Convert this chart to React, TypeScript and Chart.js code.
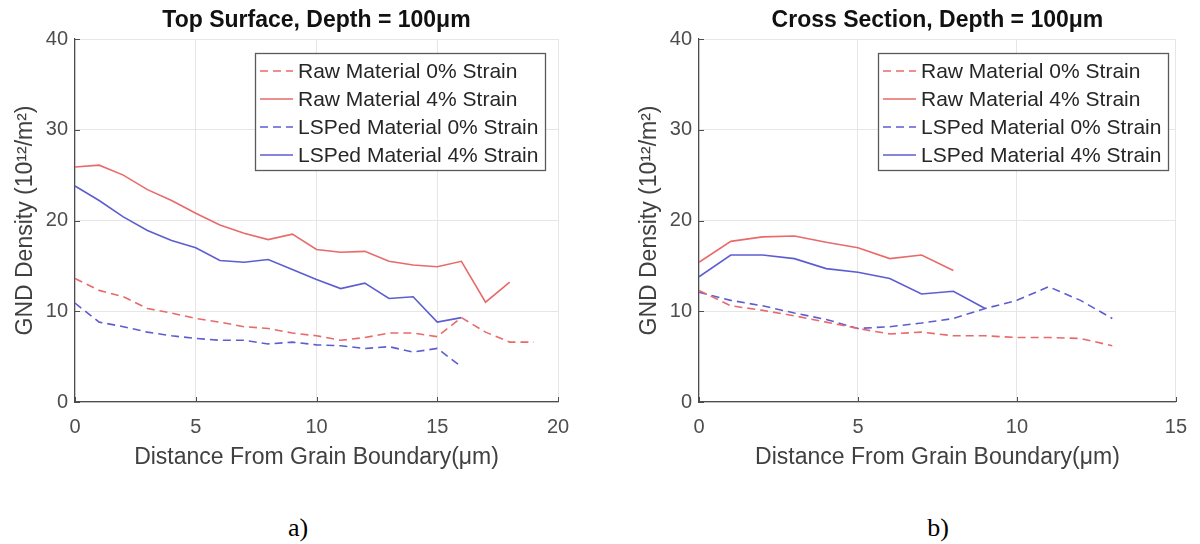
import React, { useEffect, useRef } from "react";
import { Chart, registerables } from "chart.js";

Chart.register(...registerables);

// ---------- Data ----------
const topX = [0, 1, 2, 3, 4, 5, 6, 7, 8, 9, 10, 11, 12, 13, 14, 15, 16, 17, 18, 19];
const topRaw0 = [13.6, 12.3, 11.6, 10.3, 9.8, 9.2, 8.8, 8.3, 8.1, 7.6, 7.3, 6.8, 7.1, 7.6, 7.6, 7.2, 9.3, 7.7, 6.6, 6.6];
const topRaw4 = [25.9, 26.1, 25.0, 23.4, 22.2, 20.8, 19.5, 18.6, 17.9, 18.5, 16.8, 16.5, 16.6, 15.5, 15.1, 14.9, 15.5, 11.0, 13.2];
const topLsp0 = [10.9, 8.8, 8.3, 7.7, 7.3, 7.0, 6.8, 6.8, 6.4, 6.6, 6.3, 6.2, 5.9, 6.1, 5.5, 5.9, 3.9];
const topLsp4 = [23.8, 22.2, 20.4, 18.9, 17.8, 17.0, 15.6, 15.4, 15.7, 14.6, 13.5, 12.5, 13.1, 11.4, 11.6, 8.8, 9.3];

const crossX = [0, 1, 2, 3, 4, 5, 6, 7, 8, 9, 10, 11, 12, 13];
const crossRaw0 = [12.3, 10.6, 10.1, 9.5, 8.8, 8.1, 7.5, 7.7, 7.3, 7.3, 7.1, 7.1, 7.0, 6.2];
const crossRaw4 = [15.4, 17.7, 18.2, 18.3, 17.6, 17.0, 15.8, 16.2, 14.5];
const crossLsp0 = [12.1, 11.2, 10.6, 9.8, 9.1, 8.1, 8.3, 8.7, 9.2, 10.3, 11.2, 12.7, 11.2, 9.2];
const crossLsp4 = [13.8, 16.2, 16.2, 15.8, 14.7, 14.3, 13.6, 11.9, 12.2, 10.3];

const seriesLabels = [
  "Raw Material 0% Strain",
  "Raw Material 4% Strain",
  "LSPed Material 0% Strain",
  "LSPed Material 4% Strain",
];

const topXTicks = [0, 5, 10, 15, 20];
const crossXTicks = [0, 5, 10, 15];
const yTicks = [0, 10, 20, 30, 40];

const titles = ["Top Surface, Depth = 100\u03bcm", "Cross Section, Depth = 100\u03bcm"];
const xTitle = "Distance From Grain Boundary(\u03bcm)";
const yTitle = "GND Density (10\u00b9\u00b2/m\u00b2)";

// ---------- Styles ----------
const FONT = "'Liberation Sans', Arial, sans-serif";
const RED = "#e96a6a";
const BLUE = "#5d5dd2";
const DASH = [8, 5];

const toPts = (xs: number[], ys: number[]) => ys.map((y, i) => ({ x: xs[i], y }));

type PanelCfg = {
  left: number;
  width: number;
  height: number;
  yWidth: number;
  padRight: number;
  yTitlePad: number;
  xMax: number;
  xTicks: number[];
  title: string;
  legendLeft: number;
  series: { x: number[]; y: number[] }[];
};

const decorPlugin = (title: string, legendLeft: number) => ({
  id: "decor",
  afterDraw(chart: any) {
    const { ctx, chartArea: ca, scales } = chart;
    ctx.save();
    // inward tick marks
    ctx.strokeStyle = "#4d4d4d";
    ctx.lineWidth = 1;
    ctx.setLineDash([]);
    scales.x.ticks.forEach((t: any) => {
      const px = Math.round(scales.x.getPixelForValue(t.value)) + 0.5;
      ctx.beginPath();
      ctx.moveTo(px, ca.bottom);
      ctx.lineTo(px, ca.bottom - 5);
      ctx.stroke();
    });
    scales.y.ticks.forEach((t: any) => {
      const py = Math.round(scales.y.getPixelForValue(t.value)) + 0.5;
      ctx.beginPath();
      ctx.moveTo(ca.left, py);
      ctx.lineTo(ca.left + 5, py);
      ctx.stroke();
    });
    // title
    ctx.fillStyle = "#111";
    ctx.font = `bold 23px ${FONT}`;
    ctx.textAlign = "center";
    ctx.textBaseline = "middle";
    ctx.fillText(title, (ca.left + ca.right) / 2, 21);
    // legend
    const bx = legendLeft, by = 53, bw = 290, bh = 117;
    ctx.fillStyle = "#fff";
    ctx.fillRect(bx, by, bw, bh);
    ctx.strokeStyle = "#5a5a5a";
    ctx.lineWidth = 1.3;
    ctx.strokeRect(bx + 0.5, by + 0.5, bw, bh);
    ctx.font = `21px ${FONT}`;
    ctx.textAlign = "left";
    chart.data.datasets.forEach((ds: any, i: number) => {
      const ry = 71 + i * 28;
      ctx.strokeStyle = ds.borderColor;
      ctx.lineWidth = 1.6;
      ctx.setLineDash(ds.borderDash || []);
      ctx.beginPath();
      ctx.moveTo(bx + 5, ry);
      ctx.lineTo(bx + 38, ry);
      ctx.stroke();
      ctx.setLineDash([]);
      ctx.fillStyle = "#262626";
      ctx.fillText(ds.label, bx + 43, ry + 1);
    });
    ctx.restore();
  },
});

function Panel({ cfg }: { cfg: PanelCfg }) {
  const ref = useRef<HTMLCanvasElement | null>(null);
  useEffect(() => {
    if (!ref.current) return;
    const colors = [RED, RED, BLUE, BLUE];
    const dashes = [DASH, [], DASH, []];
    const chart = new Chart(ref.current, {
      type: "line",
      data: {
        datasets: cfg.series.map((s, i) => ({
          label: seriesLabels[i],
          data: toPts(s.x, s.y),
          borderColor: colors[i],
          backgroundColor: colors[i],
          borderDash: dashes[i],
          borderWidth: 1.6,
          pointRadius: 0,
          tension: 0,
          fill: false,
        })),
      },
      options: {
        responsive: false,
        animation: false,
        events: [],
        layout: { padding: { top: 39, right: cfg.padRight, left: 0, bottom: 0 } },
        plugins: { legend: { display: false }, tooltip: { enabled: false }, title: { display: false } },
        scales: {
          x: {
            type: "linear",
            min: 0,
            max: cfg.xMax,
            afterBuildTicks: (s: any) => {
              s.ticks = cfg.xTicks.map((v) => ({ value: v }));
            },
            afterFit: (s: any) => {
              s.height = cfg.height - 402;
            },
            grid: { color: "#e6e6e6", drawTicks: false, lineWidth: 1 },
            border: { color: "#4d4d4d", width: 1.2 },
            ticks: { color: "#4d4d4d", font: { family: FONT, size: 20 }, padding: 13, maxRotation: 0 },
            title: {
              display: true,
              text: xTitle,
              color: "#404040",
              font: { family: FONT, size: 23 },
              padding: { top: 0, bottom: 9 },
            },
          },
          y: {
            type: "linear",
            min: 0,
            max: 40,
            afterBuildTicks: (s: any) => {
              s.ticks = yTicks.map((v) => ({ value: v }));
            },
            afterFit: (s: any) => {
              s.width = cfg.yWidth;
            },
            grid: { color: "#e6e6e6", drawTicks: false, lineWidth: 1 },
            border: { color: "#4d4d4d", width: 1.2 },
            ticks: { color: "#4d4d4d", font: { family: FONT, size: 20 }, padding: 7 },
            title: {
              display: true,
              text: yTitle,
              color: "#404040",
              font: { family: FONT, size: 23 },
              padding: { top: cfg.yTitlePad, bottom: 0 },
            },
          },
        },
      } as any,
      plugins: [decorPlugin(cfg.title, cfg.legendLeft) as any],
    });
    return () => chart.destroy();
  }, [cfg]);
  return (
    <canvas
      ref={ref}
      width={cfg.width}
      height={cfg.height}
      style={{ position: "absolute", left: cfg.left, top: 0, width: cfg.width, height: cfg.height }}
    />
  );
}

const leftCfg: PanelCfg = {
  left: 0,
  width: 600,
  height: 480,
  yWidth: 75,
  padRight: 42,
  yTitlePad: 12,
  xMax: 20,
  xTicks: topXTicks,
  title: titles[0],
  legendLeft: 255,
  series: [
    { x: topX, y: topRaw0 },
    { x: topX, y: topRaw4 },
    { x: topX, y: topLsp0 },
    { x: topX, y: topLsp4 },
  ],
};

const rightCfg: PanelCfg = {
  left: 620,
  width: 580,
  height: 480,
  yWidth: 79,
  padRight: 17,
  yTitlePad: 16,
  xMax: 15,
  xTicks: crossXTicks,
  title: titles[1],
  legendLeft: 258,
  series: [
    { x: crossX, y: crossRaw0 },
    { x: crossX, y: crossRaw4 },
    { x: crossX, y: crossLsp0 },
    { x: crossX, y: crossLsp4 },
  ],
};

export default function App() {
  const capStyle: React.CSSProperties = {
    position: "absolute",
    top: 512,
    fontFamily: "'Liberation Serif', 'Times New Roman', serif",
    fontSize: 26,
    lineHeight: "32px",
    color: "#000",
    transform: "translateX(-50%)",
    whiteSpace: "nowrap",
  };
  return (
    <div style={{ position: "absolute", left: 0, top: 0, width: 1200, height: 544, background: "#fff", overflow: "hidden" }}>
      <Panel cfg={leftCfg} />
      <Panel cfg={rightCfg} />
      <div style={{ ...capStyle, left: 298 }}>a)</div>
      <div style={{ ...capStyle, left: 938 }}>b)</div>
    </div>
  );
}
